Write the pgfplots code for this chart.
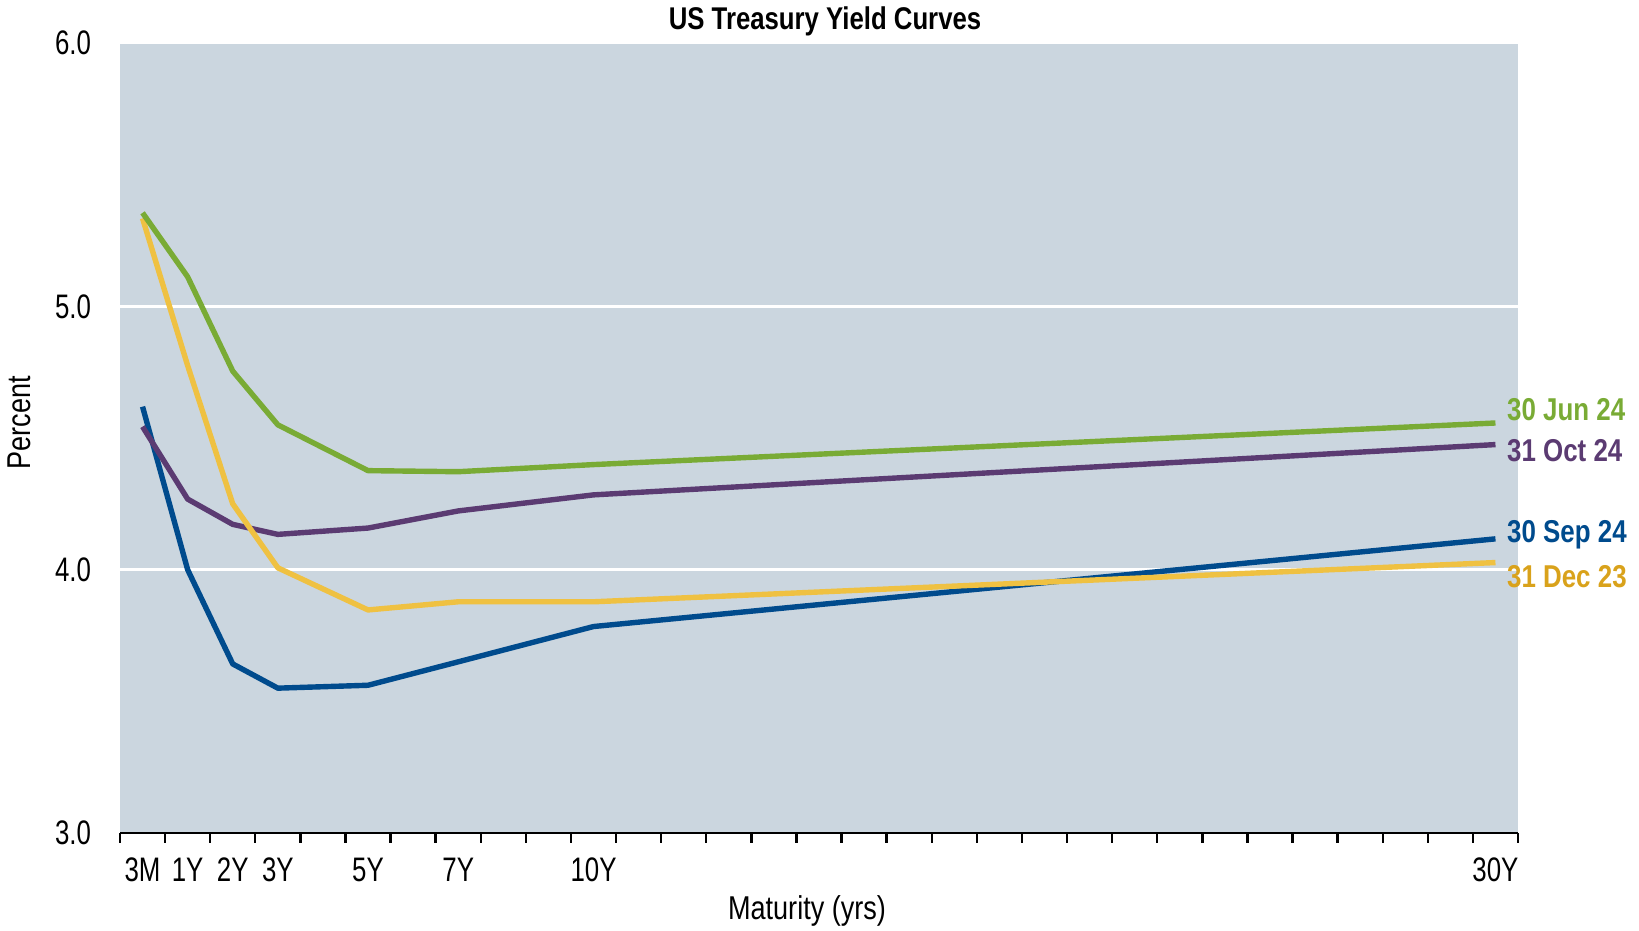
\documentclass[border=0pt]{standalone}
\usepackage{pgfplots}
\pgfplotsset{compat=1.18}
\usepackage{fontspec}
\setmainfont{Liberation Sans}[FakeStretch=0.82]
\newfontfamily\ticknarrow{Liberation Sans}[FakeStretch=0.76]
\definecolor{bg}{HTML}{CBD6DF}
\definecolor{cgreen}{HTML}{79AB35}
\definecolor{cpurple}{HTML}{5B3B72}
\definecolor{cblue}{HTML}{004B8D}
\definecolor{cyellow}{HTML}{EFC142}
\definecolor{cyellowtxt}{HTML}{D9A21B}
\begin{document}
\begin{tikzpicture}
\path[use as bounding box] (-60pt,-49pt) rectangle (759.5pt,416.5pt);
\begin{axis}[
  at={(0,0)}, anchor=south west, scale only axis,
  width=699pt, height=395pt,
  xmin=-0.5, xmax=30.5, ymin=3, ymax=6,
  clip=false,
  axis background/.style={fill=bg},
  axis x line*=bottom, axis y line*=left,
  x axis line style={black, line width=1.2pt},
  y axis line style={draw=none},
  xtick={-0.5,0.5,...,30.5}, xticklabels={},
  tick align=outside, major tick length=5pt,
  x tick style={black, line width=1.2pt},
  extra x ticks={0,1,2,3,5,7,10,30},
  extra x tick labels={3M,1Y,2Y,3Y,5Y,7Y,10Y,30Y},
  extra x tick style={major tick length=0pt, xticklabel style={yshift=-9pt}},
  ytick={3,4,5,6},
  y tick style={draw=none},
  ymajorgrids, grid style={white, line width=1.3pt},
  yticklabel style={/pgf/number format/.cd, fixed, fixed zerofill, precision=1, /tikz/.cd, xshift=-6pt},
  /pgf/number format/assume math mode=true,
  tick label style={font=\ticknarrow\fontsize{17}{19}\selectfont},
  every axis plot/.append style={line width=2.7pt, line join=round, mark=none},
]
% 30 Sep 24
\addplot[cblue] coordinates {(0,4.619)(1,4.0)(2,3.642)(3,3.55)(5,3.561)(7,3.65)(10,3.784)(30,4.117)};
% 31 Oct 24
\addplot[cpurple] coordinates {(0,4.543)(1,4.268)(2,4.172)(3,4.134)(5,4.158)(7,4.223)(10,4.284)(30,4.475)};
% 31 Dec 23
\addplot[cyellow] coordinates {(0,5.334)(1,4.775)(2,4.25)(3,4.007)(5,3.847)(7,3.878)(10,3.878)(30,4.027)};
% 30 Jun 24
\addplot[cgreen] coordinates {(0,5.355)(1,5.112)(2,4.754)(3,4.55)(5,4.376)(7,4.372)(10,4.399)(30,4.557)};

\node[anchor=west, text=cgreen, font=\bfseries\fontsize{15.8}{18}\selectfont, inner sep=0pt] at (axis cs:30.25,4.607) {30 Jun 24};
\node[anchor=west, text=cpurple, font=\bfseries\fontsize{15.8}{18}\selectfont, inner sep=0pt] at (axis cs:30.25,4.451) {31 Oct 24};
\node[anchor=west, text=cblue, font=\bfseries\fontsize{15.8}{18}\selectfont, inner sep=0pt] at (axis cs:30.25,4.132) {30 Sep 24};
\node[anchor=west, text=cyellowtxt, font=\bfseries\fontsize{15.8}{18}\selectfont, inner sep=0pt] at (axis cs:30.25,3.972) {31 Dec 23};
\end{axis}
\node[font=\bfseries\fontsize{15.7}{18}\selectfont] at (352.5pt,406pt) {US Treasury Yield Curves};
\node[font=\fontsize{16.5}{18}\selectfont] at (343.5pt,-39pt) {Maturity (yrs)};
\node[rotate=90, font=\fontsize{16.5}{18}\selectfont] at (-50.5pt,205pt) {Percent};
\end{tikzpicture}
\end{document}
